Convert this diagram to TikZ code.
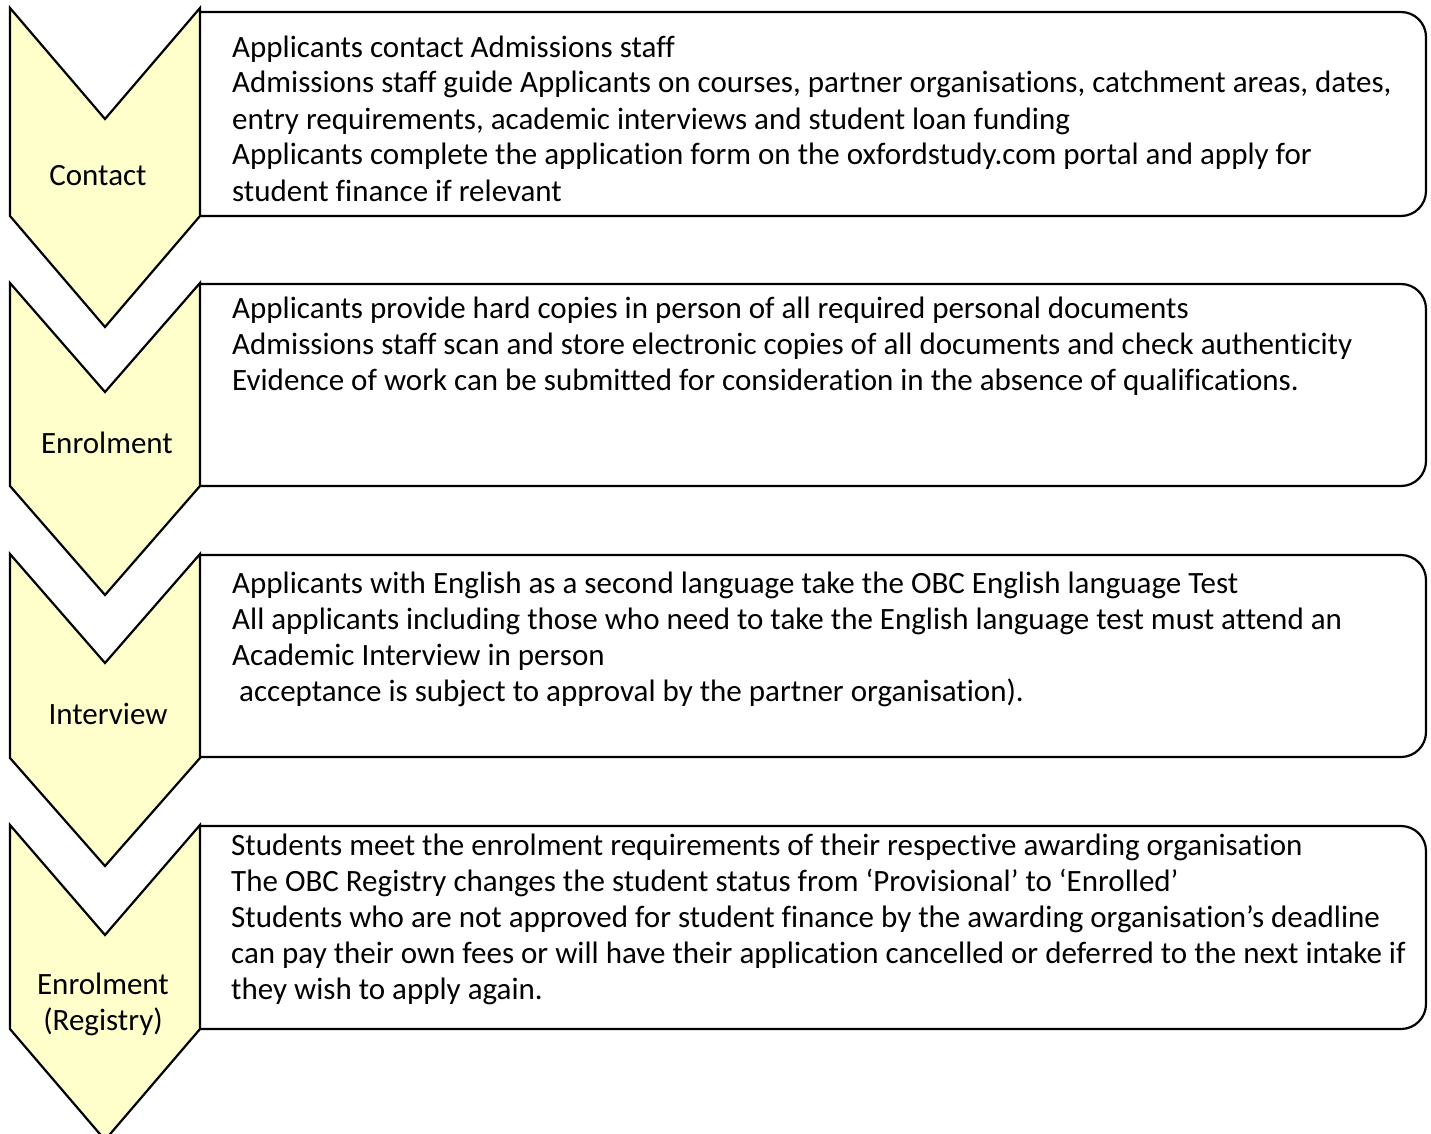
\documentclass[tikz,border=0pt]{standalone}
\usepackage{fontspec}
\setmainfont{Carlito}[Ligatures=CommonOff]
\definecolor{chevfill}{HTML}{FFFFCC}
\tikzset{
  chevron/.style={draw=black, line width=2.2pt, fill=chevfill, line join=miter},
  stepbox/.style={draw=black, line width=2.2pt, rounded corners=25pt},
  stage/.style={align=center, inner sep=0pt, font=\fontsize{31}{36}\selectfont},
  desc/.style={anchor=base west, align=left, inner sep=0pt, font=\fontsize{31}{36}\selectfont}
}

\begin{document}
\begin{tikzpicture}[x=1pt, y=-1pt]
        \useasboundingbox (0,0) rectangle (1431,1134);

        % description boxes (left side hidden behind the chevrons)
        \draw[stepbox] (200,12) -- (1426,12) -- (1426,216) -- (200,216);
        \draw[stepbox] (200,284) -- (1426,284) -- (1426,486) -- (200,486);
        \draw[stepbox] (200,555) -- (1426,555) -- (1426,757) -- (200,757);
        \draw[stepbox] (200,826) -- (1426,826) -- (1426,1029) -- (200,1029);

        % chevrons
        \draw[chevron] (10,8) -- (105,119) -- (200,8) -- (200,216) -- (105,327) -- (10,216) -- cycle;
        \draw[chevron] (10,283) -- (105,392) -- (200,283) -- (200,486) -- (105,595) -- (10,486) -- cycle;
        \draw[chevron] (10,554) -- (105,663) -- (200,554) -- (200,758) -- (105,866) -- (10,758) -- cycle;
        \draw[chevron] (10,825) -- (105,935) -- (200,825) -- (200,1029) -- (105,1140) -- (10,1029) -- cycle;

        \node[stage] (contact) at (98,176) {Contact};
        \node[stage] (enrol) at (107,443) {Enrolment};
        \node[stage] (interview) at (108,714) {Interview};
        \node[stage] (registry) at (103,1004) {Enrolment\\(Registry)};

        % text nodes are placed by the baseline of their last line
        \node[desc] (contacttxt) at (232,201) {Applicants contact Admissions staff\\
          Admissions staff guide Applicants on courses, partner organisations, catchment areas, dates,\\
          entry requirements, academic interviews and student loan funding\\
          Applicants complete the application form on the oxfordstudy.com portal and apply for\\
          student finance if relevant};
        \node[desc] (enroltxt) at (232,390) {Applicants provide hard copies in person of all required personal documents\\
          Admissions staff scan and store electronic copies of all documents and check authenticity\\
          Evidence of work can be submitted for consideration in the absence of qualifications.};
        \node[desc] (interviewtxt) at (232,701) {Applicants with English as a second language take the OBC English language Test\\
          All applicants including those who need to take the English language test must attend an\\
          Academic Interview in person\\
          \hspace*{7pt}acceptance is subject to approval by the partner organisation).};
        \node[desc] (registrytxt) at (231,999) {Students meet the enrolment requirements of their respective awarding organisation\\
          The OBC Registry changes the student status from ‘Provisional’ to ‘Enrolled’\\
          Students who are not approved for student finance by the awarding organisation’s deadline\\
          can pay their own fees or will have their application cancelled or deferred to the next intake if\\
          they wish to apply again.};

\end{tikzpicture}
\end{document}
